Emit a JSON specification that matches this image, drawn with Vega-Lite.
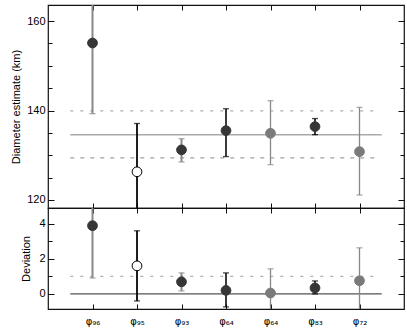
{
  "$schema": "https://vega.github.io/schema/vega-lite/v6.json",
  "padding": {"left": 10, "top": 3, "right": 3, "bottom": 0},
  "spacing": 0,
  "bounds": "flush",
  "config": {
    "view": {"stroke": "#111", "strokeWidth": 1.2},
    "axis": {"labelFont": "Liberation Sans", "titleFont": "Liberation Sans", "labelFontSize": 11, "titleFontSize": 11, "titleFontWeight": "normal", "labelColor": "#000", "titleColor": "#000", "domain": false, "grid": false, "tickColor": "#111", "tickWidth": 1}
  },
  "datasets": {
    "est": [
      {"i": 1, "kind": "A", "val": 155.1, "lo": 139.3, "hi": 175},
      {"i": 2, "kind": "B", "val": 126.3, "lo": 100, "hi": 137.1},
      {"i": 3, "kind": "A", "val": 131.2, "lo": 128.5, "hi": 133.7},
      {"i": 4, "kind": "C", "val": 135.5, "lo": 129.7, "hi": 140.4},
      {"i": 5, "kind": "D", "val": 134.9, "lo": 127.9, "hi": 142.2},
      {"i": 6, "kind": "C", "val": 136.4, "lo": 134.6, "hi": 138.2},
      {"i": 7, "kind": "D", "val": 130.8, "lo": 121.1, "hi": 140.7}
    ],
    "dev": [
      {"i": 1, "kind": "A", "val": 3.89, "lo": 0.91, "hi": 6},
      {"i": 2, "kind": "B", "val": 1.6, "lo": -0.4, "hi": 3.6},
      {"i": 3, "kind": "A", "val": 0.69, "lo": 0.17, "hi": 1.2},
      {"i": 4, "kind": "C", "val": 0.2, "lo": -0.74, "hi": 1.2},
      {"i": 5, "kind": "D", "val": 0.05, "lo": -2, "hi": 1.43},
      {"i": 6, "kind": "C", "val": 0.34, "lo": 0.0, "hi": 0.74},
      {"i": 7, "kind": "D", "val": 0.75, "lo": -2, "hi": 2.63}
    ],
    "estLines": [
      {"type": "mean", "y": 134.6, "a": 0.5, "b": 7.5},
      {"type": "upper", "y": 139.9, "a": 0.5, "b": 7.4},
      {"type": "lower", "y": 129.4, "a": 0.5, "b": 7.4}
    ],
    "devLines": [
      {"type": "mean", "y": 0, "a": 0.5, "b": 7.5},
      {"type": "upper", "y": 1, "a": 0.5, "b": 7.4}
    ]
  },
  "vconcat": [
    {
      "width": 356,
      "height": 203,
      "resolve": {"axis": {"x": "independent", "y": "independent"}},
      "layer": [
        {
          "data": {"name": "estLines"},
          "transform": [{"filter": "datum.type == 'mean'"}],
          "mark": {"type": "rule", "color": "#aaa", "strokeWidth": 1.5},
          "encoding": {
            "x": {"field": "a", "type": "quantitative", "scale": {"domain": [0, 8], "nice": false, "zero": false}, "axis": {"orient": "top", "values": [1,2,3,4,5,6,7], "labels": false, "offset": -5, "tickSize": 5, "maxExtent": 0, "title": null}},
            "x2": {"field": "b"},
            "y": {"field": "y", "type": "quantitative", "scale": {"domain": [118.2, 163.6], "nice": false, "zero": false}, "axis": {"orient": "right", "values": [120,140,160], "labels": false, "offset": -6, "tickSize": 6, "maxExtent": 0, "title": null}}
          }
        },
        {
          "data": {"name": "estLines"},
          "transform": [{"filter": "datum.type == 'upper'"}],
          "mark": {"type": "rule", "color": "#b0b0b0", "strokeWidth": 1.2, "strokeDash": [3, 7]},
          "encoding": {
            "x": {"field": "a", "type": "quantitative", "axis": {"orient": "bottom", "values": [1,2,3,4,5,6,7], "labels": false, "offset": -5, "tickSize": 5, "maxExtent": 0, "title": null}},
            "x2": {"field": "b"},
            "y": {"field": "y", "type": "quantitative", "axis": {"orient": "left", "values": [120,140,160], "offset": -6, "tickSize": 6, "labelPadding": 3, "title": "Diameter estimate (km)", "titlePadding": 5}}
          }
        },
        {
          "data": {"name": "estLines"},
          "transform": [{"filter": "datum.type == 'lower'"}],
          "mark": {"type": "rule", "color": "#888", "strokeWidth": 1, "strokeDash": [4, 6]},
          "encoding": {
            "x": {"field": "a", "type": "quantitative", "axis": null},
            "x2": {"field": "b"},
            "y": {"field": "y", "type": "quantitative", "axis": null}
          }
        },
        {
          "data": {"name": "est"},
          "mark": {"type": "rule", "clip": true},
          "encoding": {
            "x": {"field": "i", "type": "quantitative", "axis": null},
            "y": {"field": "lo", "type": "quantitative", "axis": {"orient": "left", "values": [125,130,135,145,150,155], "labels": false, "offset": -4, "tickSize": 4, "maxExtent": 0, "title": null}},
            "y2": {"field": "hi"},
            "color": {"field": "kind", "type": "nominal", "scale": {"domain": ["A","B","C","D"], "range": ["#888","#000","#000","#888"]}, "legend": null},
            "strokeWidth": {"field": "kind", "type": "nominal", "scale": {"domain": ["A","B","C","D"], "range": [2, 1.3, 1.3, 2]}, "legend": null}
          }
        },
        {
          "data": {"name": "est"},
          "mark": {"type": "tick", "clip": true, "orient": "horizontal", "size": 6, "thickness": 1.3},
          "encoding": {
            "x": {"field": "i", "type": "quantitative", "axis": null},
            "y": {"field": "lo", "type": "quantitative", "axis": {"orient": "right", "values": [125,130,135,145,150,155], "labels": false, "offset": -4, "tickSize": 4, "maxExtent": 0, "title": null}},
            "color": {"field": "kind", "type": "nominal", "legend": null}
          }
        },
        {
          "data": {"name": "est"},
          "mark": {"type": "tick", "clip": true, "orient": "horizontal", "size": 6, "thickness": 1.3},
          "encoding": {
            "x": {"field": "i", "type": "quantitative", "axis": null},
            "y": {"field": "hi", "type": "quantitative", "axis": null},
            "color": {"field": "kind", "type": "nominal", "legend": null}
          }
        },
        {
          "data": {"name": "est"},
          "mark": {"type": "point", "filled": false, "size": 95, "strokeWidth": 1, "opacity": 1},
          "encoding": {
            "x": {"field": "i", "type": "quantitative", "axis": null},
            "y": {"field": "val", "type": "quantitative", "axis": null},
            "fill": {"field": "kind", "type": "nominal", "scale": {"domain": ["A","B","C","D"], "range": ["#363636","#fff","#363636","#7a7a7a"]}, "legend": null},
            "stroke": {"field": "kind", "type": "nominal", "scale": {"domain": ["A","B","C","D"], "range": ["#363636","#000","#363636","#7a7a7a"]}, "legend": null}
          }
        }
      ]
    },
    {
      "width": 356,
      "height": 101,
      "resolve": {"axis": {"x": "independent", "y": "independent"}},
      "layer": [
        {
          "data": {"name": "devLines"},
          "transform": [{"filter": "datum.type == 'mean'"}],
          "mark": {"type": "rule", "color": "#555", "strokeWidth": 1.2},
          "encoding": {
            "x": {"field": "a", "type": "quantitative", "scale": {"domain": [0, 8], "nice": false, "zero": false}, "axis": {"orient": "top", "values": [1,2,3,4,5,6,7], "labels": false, "offset": -5, "tickSize": 5, "maxExtent": 0, "title": null}},
            "x2": {"field": "b"},
            "y": {"field": "y", "type": "quantitative", "scale": {"domain": [-0.86, 4.9], "nice": false, "zero": false}, "axis": {"orient": "right", "values": [0,2,4], "labels": false, "offset": -6, "tickSize": 6, "maxExtent": 0, "title": null}}
          }
        },
        {
          "data": {"name": "devLines"},
          "transform": [{"filter": "datum.type == 'upper'"}],
          "mark": {"type": "rule", "color": "#b0b0b0", "strokeWidth": 1.2, "strokeDash": [3, 7]},
          "encoding": {
            "x": {"field": "a", "type": "quantitative", "axis": {"orient": "bottom", "values": [1,2,3,4,5,6,7], "labelExpr": "['','φ₉₆','φ₉₅','φ₉₃','φ₆₄','φ₆₄','φ₈₃','φ₇₂',''][datum.value]", "labelFont": "DejaVu Sans", "labelFontSize": 10, "offset": -5, "tickSize": 5, "labelPadding": 7, "title": null}},
            "x2": {"field": "b"},
            "y": {"field": "y", "type": "quantitative", "axis": {"orient": "left", "values": [0,2,4], "offset": -6, "tickSize": 6, "labelPadding": 3, "title": "Deviation", "titlePadding": 7}}
          }
        },
        {
          "data": {"name": "dev"},
          "mark": {"type": "rule", "clip": true},
          "encoding": {
            "x": {"field": "i", "type": "quantitative", "axis": null},
            "y": {"field": "lo", "type": "quantitative", "axis": {"orient": "left", "values": [1,3], "labels": false, "offset": -4, "tickSize": 4, "maxExtent": 0, "title": null}},
            "y2": {"field": "hi"},
            "color": {"field": "kind", "type": "nominal", "scale": {"domain": ["A","B","C","D"], "range": ["#888","#000","#000","#888"]}, "legend": null},
            "strokeWidth": {"field": "kind", "type": "nominal", "scale": {"domain": ["A","B","C","D"], "range": [2, 1.3, 1.3, 2]}, "legend": null}
          }
        },
        {
          "data": {"name": "dev"},
          "mark": {"type": "tick", "clip": true, "orient": "horizontal", "size": 6, "thickness": 1.3},
          "encoding": {
            "x": {"field": "i", "type": "quantitative", "axis": null},
            "y": {"field": "lo", "type": "quantitative", "axis": {"orient": "right", "values": [1,3], "labels": false, "offset": -4, "tickSize": 4, "maxExtent": 0, "title": null}},
            "color": {"field": "kind", "type": "nominal", "legend": null}
          }
        },
        {
          "data": {"name": "dev"},
          "mark": {"type": "tick", "clip": true, "orient": "horizontal", "size": 6, "thickness": 1.3},
          "encoding": {
            "x": {"field": "i", "type": "quantitative", "axis": null},
            "y": {"field": "hi", "type": "quantitative", "axis": null},
            "color": {"field": "kind", "type": "nominal", "legend": null}
          }
        },
        {
          "data": {"name": "dev"},
          "mark": {"type": "point", "filled": false, "size": 95, "strokeWidth": 1, "opacity": 1},
          "encoding": {
            "x": {"field": "i", "type": "quantitative", "axis": null},
            "y": {"field": "val", "type": "quantitative", "axis": null},
            "fill": {"field": "kind", "type": "nominal", "scale": {"domain": ["A","B","C","D"], "range": ["#363636","#fff","#363636","#7a7a7a"]}, "legend": null},
            "stroke": {"field": "kind", "type": "nominal", "scale": {"domain": ["A","B","C","D"], "range": ["#363636","#000","#363636","#7a7a7a"]}, "legend": null}
          }
        }
      ]
    }
  ]
}
